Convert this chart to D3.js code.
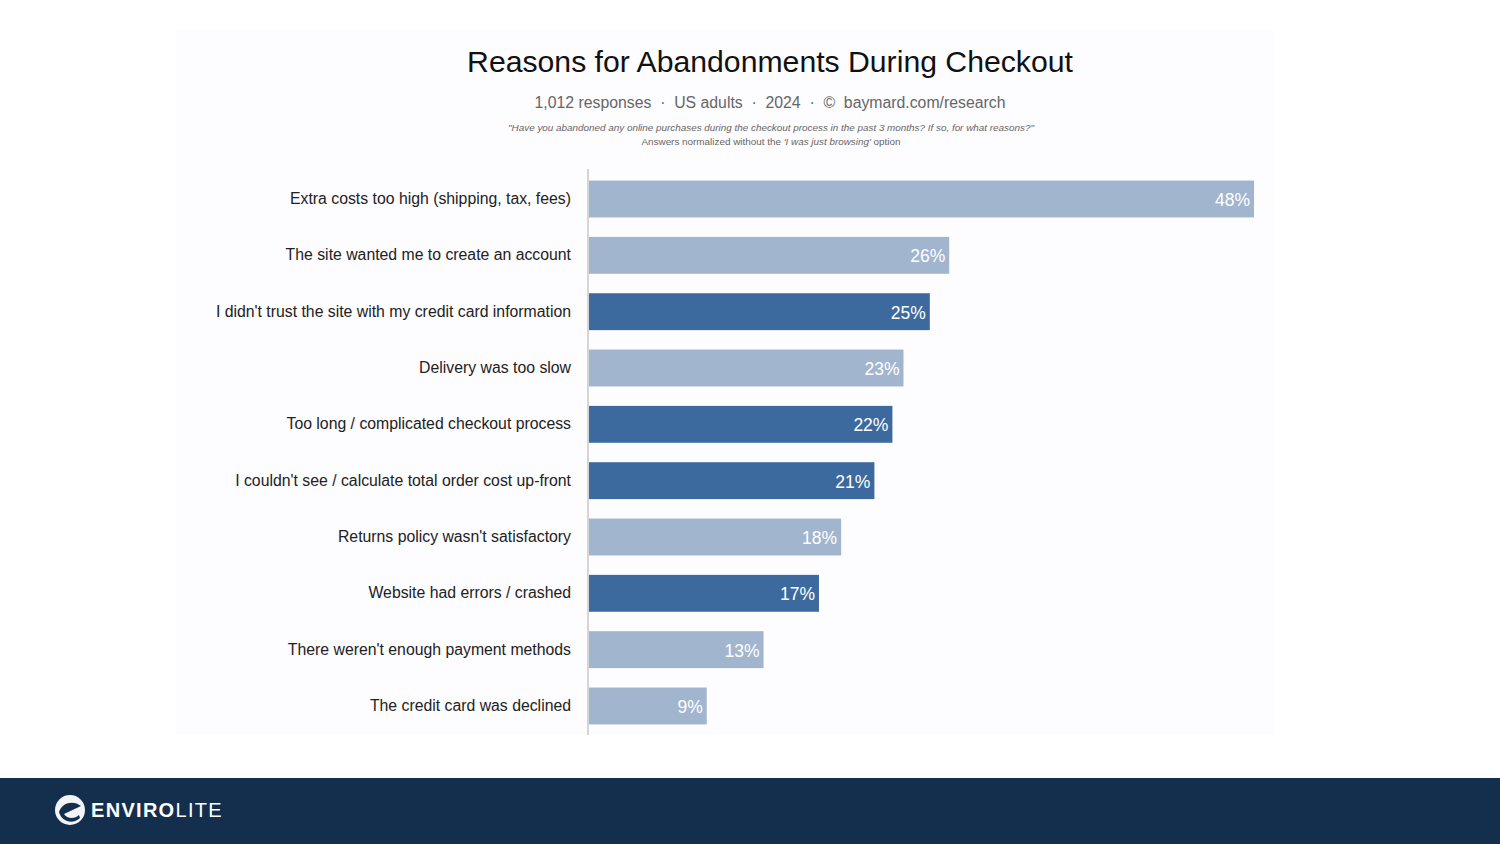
<!DOCTYPE html>
<html><head><meta charset="utf-8">
<script src="https://cdn.jsdelivr.net/npm/d3@7"></script>
<style>html,body{margin:0;padding:0;background:#fff;}svg{display:block;}</style>
</head><body>
<svg id="c" width="1500" height="844"></svg>
<script>
const categories = [
  "Extra costs too high (shipping, tax, fees)",
  "The site wanted me to create an account",
  "I didn't trust the site with my credit card information",
  "Delivery was too slow",
  "Too long / complicated checkout process",
  "I couldn't see / calculate total order cost up-front",
  "Returns policy wasn't satisfactory",
  "Website had errors / crashed",
  "There weren't enough payment methods",
  "The credit card was declined"
];
const values = [48, 26, 24.6, 22.7, 21.9, 20.6, 18.2, 16.6, 12.6, 8.5];
const valueLabels = ["48%", "26%", "25%", "23%", "22%", "21%", "18%", "17%", "13%", "9%"];
const highlighted = [false, false, true, false, true, true, false, true, false, false];

const svg = d3.select("#c");
const font = "'Liberation Sans', Arial, Helvetica, sans-serif";

// subtle panel
svg.append("rect").attr("x", 175).attr("y", 30).attr("width", 1100).attr("height", 705).attr("fill", "#fdfcfe");

// titles
svg.append("text").attr("x", 770).attr("y", 72).attr("text-anchor", "middle")
  .attr("font-family", font).attr("font-size", 30.2).attr("fill", "#111").text("Reasons for Abandonments During Checkout");
svg.append("text").attr("x", 770).attr("y", 108).attr("text-anchor", "middle")
  .attr("font-family", font).attr("font-size", 15.8).attr("fill", "#666").attr("xml:space", "preserve")
  .style("white-space", "pre")
  .text("1,012 responses  \u00B7  US adults  \u00B7  2024  \u00B7  \u00A9  baymard.com/research");
svg.append("text").attr("x", 771).attr("y", 131).attr("text-anchor", "middle")
  .attr("font-family", font).attr("font-size", 9.9).attr("font-style", "italic").attr("fill", "#666")
  .text("\"Have you abandoned any online purchases during the checkout process in the past 3 months? If so, for what reasons?\"");
const t2 = svg.append("text").attr("x", 771).attr("y", 145).attr("text-anchor", "middle")
  .attr("font-family", font).attr("font-size", 9.9).attr("fill", "#666");
t2.append("tspan").text("Answers normalized without the ");
t2.append("tspan").attr("font-style", "italic").text("'I was just browsing'");
t2.append("tspan").text(" option");

// scales
const x = d3.scaleLinear().domain([0, 48]).range([589, 1254]);
const y = d3.scaleBand().domain(categories).range([171, 734]).paddingInner(0.345).paddingOuter(0.17);

const g = svg.append("g");
g.selectAll("rect.bar").data(categories).join("rect").attr("class", "bar")
  .attr("x", x(0)).attr("y", d => y(d))
  .attr("width", (d, i) => x(values[i]) - x(0)).attr("height", y.bandwidth())
  .attr("fill", (d, i) => highlighted[i] ? "#3d6a9e" : "#a2b5cf");

g.selectAll("text.val").data(categories).join("text").attr("class", "val")
  .attr("x", (d, i) => x(values[i]) - 4).attr("y", d => y(d) + y.bandwidth() / 2 + 7)
  .attr("text-anchor", "end").attr("font-family", font).attr("font-size", 17.5)
  .attr("fill", "#fff").text((d, i) => valueLabels[i]);

// y axis
const yAxis = d3.axisLeft(y).tickSize(0).tickPadding(17);
const ax = svg.append("g").attr("transform", "translate(588,0)").call(yAxis);
ax.select(".domain").attr("stroke", "#c8c8c8").attr("stroke-width", 1.5).attr("d", "M0,169V735");
ax.selectAll("text").attr("font-family", font).attr("font-size", 15.8).attr("fill", "#222");

// footer band
svg.append("rect").attr("x", 0).attr("y", 778).attr("width", 1500).attr("height", 66).attr("fill", "#142f4e");
// logo
const lg = svg.append("g").attr("transform", "translate(70,810)");
lg.append("circle").attr("r", 15).attr("fill", "#f2f4f7");
lg.append("path").attr("d", "M-11,2 C-8,-8 4,-10 11,-4 L-6,4 C-3,9 5,9 9,5 L10,8 C4,14 -8,13 -11,2 Z").attr("fill", "#142f4e");
lg.append("path").attr("d", "M-18,-3 C-14,-15 0,-21 12,-16").attr("fill", "none").attr("stroke", "#142f4e").attr("stroke-width", 2.5);
const lt = svg.append("text").attr("x", 91).attr("y", 817).attr("font-family", font).attr("font-size", 20).attr("letter-spacing", 1.3).attr("fill", "#ffffff");
lt.append("tspan").attr("font-weight", "bold").text("ENVIRO");
lt.append("tspan").attr("font-weight", "normal").text("LITE");
</script>
</body></html>
